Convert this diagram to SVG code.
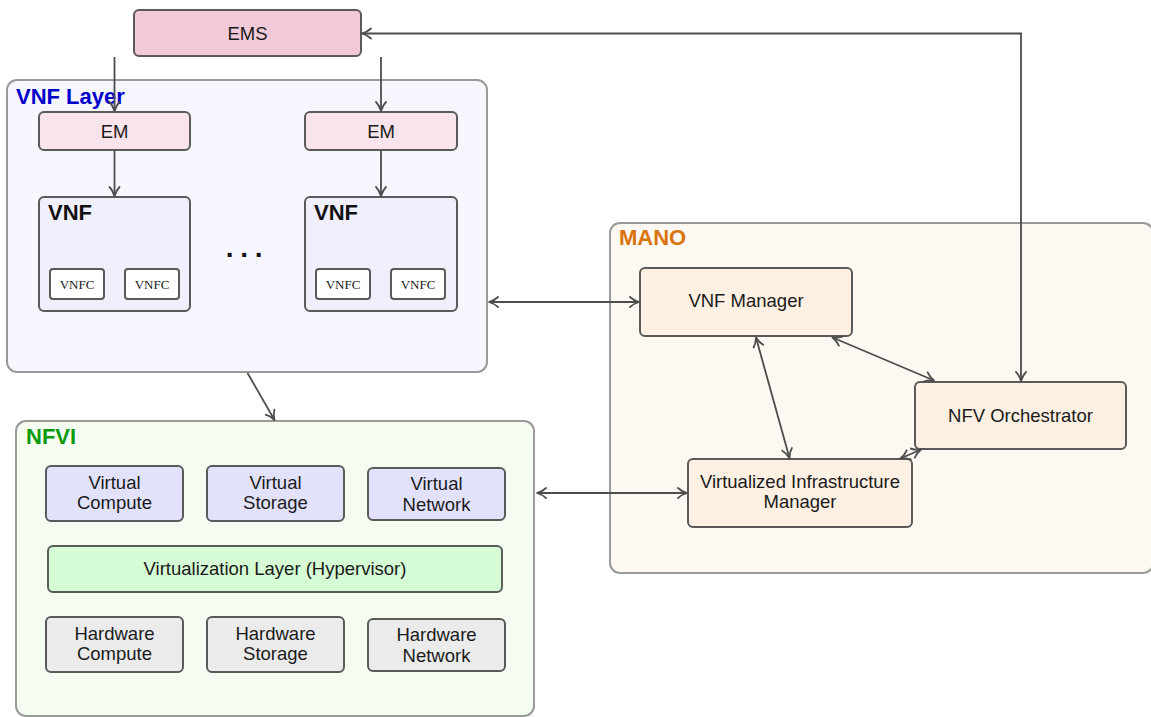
<svg xmlns="http://www.w3.org/2000/svg" width="1151" height="717" viewBox="0 0 1151 717">
  <style>
    .lbl { font-family: "Liberation Sans", Arial, sans-serif; font-size: 18.5px; fill: #1a1a1a; text-anchor: middle; }
    .title { font-family: "Liberation Sans", Arial, sans-serif; font-size: 22px; font-weight: bold; }
    .vnfc { font-family: "Liberation Serif", "Times New Roman", serif; font-size: 13px; fill: #1a1a1a; text-anchor: middle; }
    .container { stroke: #9a9a9a; stroke-width: 2; }
    .node { stroke: #5a5a5a; stroke-width: 2; }
    .conn { fill: none; stroke: #4d4d4d; stroke-width: 1.8; }
    .one { marker-end: url(#tip); }
    .two { marker-start: url(#tip); marker-end: url(#tip); }
  </style>
  <defs>
    <marker id="tip" viewBox="-11 -7 13 14" refX="0" refY="0" markerWidth="13" markerHeight="14" markerUnits="userSpaceOnUse" orient="auto-start-reverse">
      <path d="M-9,-5 C-6,-2 -2,-0.6 0,0 C-2,0.6 -6,2 -9,5" fill="none" stroke="#4d4d4d" stroke-width="1.8" stroke-linecap="round" stroke-linejoin="round"/>
    </marker>
  </defs>

  <rect width="1151" height="717" fill="#ffffff"/>

  <!-- Containers -->
  <g id="vnf-layer">
    <rect class="container" x="7" y="80" width="480" height="292" rx="10" fill="#f6f6ff"/>
    <text class="title" x="16" y="104" fill="#0000cc">VNF Layer</text>
  </g>
  <g id="mano">
    <rect class="container" x="610" y="223" width="543" height="350" rx="10" fill="#fef8f2"/>
    <text class="title" x="619" y="245" fill="#d9730d">MANO</text>
  </g>
  <g id="nfvi">
    <rect class="container" x="16" y="421" width="518" height="295" rx="10" fill="#f5fdf3"/>
    <text class="title" x="26" y="444" fill="#0b9a0b">NFVI</text>
  </g>

  <!-- Element management -->
  <g id="ems">
    <rect class="node" x="134" y="10" width="227" height="46" rx="5" fill="#f2c9d8"/>
    <text class="lbl" x="247.5" y="39.5">EMS</text>
  </g>
  <g id="em-1">
    <rect class="node" x="39" y="112" width="151" height="38" rx="5" fill="#f9e4ec"/>
    <text class="lbl" x="114.5" y="137.5">EM</text>
  </g>
  <g id="em-2">
    <rect class="node" x="305" y="112" width="152" height="38" rx="5" fill="#f9e4ec"/>
    <text class="lbl" x="381" y="137.5">EM</text>
  </g>

  <!-- Virtual network functions -->
  <g id="vnf-1">
    <rect class="node" x="39" y="197" width="151" height="114" rx="5" fill="#f0f0fd"/>
    <text class="title" x="48" y="220" fill="#111111">VNF</text>
    <rect class="node" x="50" y="269" width="54" height="30" rx="3" fill="#ffffff"/>
    <text class="vnfc" x="77" y="288.5">VNFC</text>
    <rect class="node" x="125" y="269" width="54" height="30" rx="3" fill="#ffffff"/>
    <text class="vnfc" x="152" y="288.5">VNFC</text>
  </g>
  <g id="vnf-2">
    <rect class="node" x="305" y="197" width="152" height="114" rx="5" fill="#f0f0fd"/>
    <text class="title" x="314" y="220" fill="#111111">VNF</text>
    <rect class="node" x="316" y="269" width="54" height="30" rx="3" fill="#ffffff"/>
    <text class="vnfc" x="343" y="288.5">VNFC</text>
    <rect class="node" x="391" y="269" width="54" height="30" rx="3" fill="#ffffff"/>
    <text class="vnfc" x="418" y="288.5">VNFC</text>
  </g>
  <g id="vnf-ellipsis">
    <text x="230.5 245 259.5" y="264" font-family="Liberation Sans, Arial, sans-serif" font-size="28" font-weight="bold" fill="#111111" text-anchor="middle">···</text>
  </g>

  <!-- MANO functional blocks -->
  <g id="vnf-manager">
    <rect class="node" x="640" y="268" width="212" height="68" rx="5" fill="#fef0e2"/>
    <text class="lbl" x="746" y="307">VNF Manager</text>
  </g>
  <g id="nfv-orchestrator">
    <rect class="node" x="915" y="382" width="211" height="67" rx="5" fill="#fef0e2"/>
    <text class="lbl" x="1020.5" y="422">NFV Orchestrator</text>
  </g>
  <g id="vim">
    <rect class="node" x="688" y="459" width="224" height="68" rx="5" fill="#fef0e2"/>
    <text class="lbl" x="800" y="487.5">Virtualized Infrastructure</text>
    <text class="lbl" x="800" y="508">Manager</text>
  </g>

  <!-- NFVI resources -->
  <g id="virtual-compute">
    <rect class="node" x="46" y="466" width="137" height="55" rx="5" fill="#e2e2fc"/>
    <text class="lbl" x="114.5" y="488.5">Virtual</text>
    <text class="lbl" x="114.5" y="509">Compute</text>
  </g>
  <g id="virtual-storage">
    <rect class="node" x="207" y="466" width="137" height="55" rx="5" fill="#e2e2fc"/>
    <text class="lbl" x="275.5" y="488.5">Virtual</text>
    <text class="lbl" x="275.5" y="509">Storage</text>
  </g>
  <g id="virtual-network">
    <rect class="node" x="368" y="468" width="137" height="52" rx="5" fill="#e2e2fc"/>
    <text class="lbl" x="436.5" y="490">Virtual</text>
    <text class="lbl" x="436.5" y="510.5">Network</text>
  </g>
  <g id="virtualization-layer">
    <rect class="node" x="48" y="546" width="454" height="46" rx="5" fill="#d5fcd5"/>
    <text class="lbl" x="275" y="575">Virtualization Layer (Hypervisor)</text>
  </g>
  <g id="hardware-compute">
    <rect class="node" x="46" y="617" width="137" height="55" rx="5" fill="#ebebeb"/>
    <text class="lbl" x="114.5" y="639.5">Hardware</text>
    <text class="lbl" x="114.5" y="660">Compute</text>
  </g>
  <g id="hardware-storage">
    <rect class="node" x="207" y="617" width="137" height="55" rx="5" fill="#ebebeb"/>
    <text class="lbl" x="275.5" y="639.5">Hardware</text>
    <text class="lbl" x="275.5" y="660">Storage</text>
  </g>
  <g id="hardware-network">
    <rect class="node" x="368" y="619" width="137" height="52" rx="5" fill="#ebebeb"/>
    <text class="lbl" x="436.5" y="641">Hardware</text>
    <text class="lbl" x="436.5" y="661.5">Network</text>
  </g>

  <!-- Connectors -->
  <g id="connectors">
    <path class="conn one" d="M114.5,57 V111"/>
    <path class="conn one" d="M381,57 V111"/>
    <path class="conn one" d="M114.5,150 V196"/>
    <path class="conn one" d="M381,150 V196"/>
    <path class="conn one" d="M247.5,373 L274.5,420"/>
    <path class="conn two" d="M489,302 H639"/>
    <path class="conn two" d="M537,493 H687"/>
    <path class="conn two" d="M1021,381 V33.5 H362"/>
    <path class="conn two" d="M756,337.5 L789.5,458"/>
    <path class="conn two" d="M832.5,337.5 L934,380.5"/>
    <path class="conn two" d="M900.5,458.5 L921,449.5"/>
  </g>
</svg>
